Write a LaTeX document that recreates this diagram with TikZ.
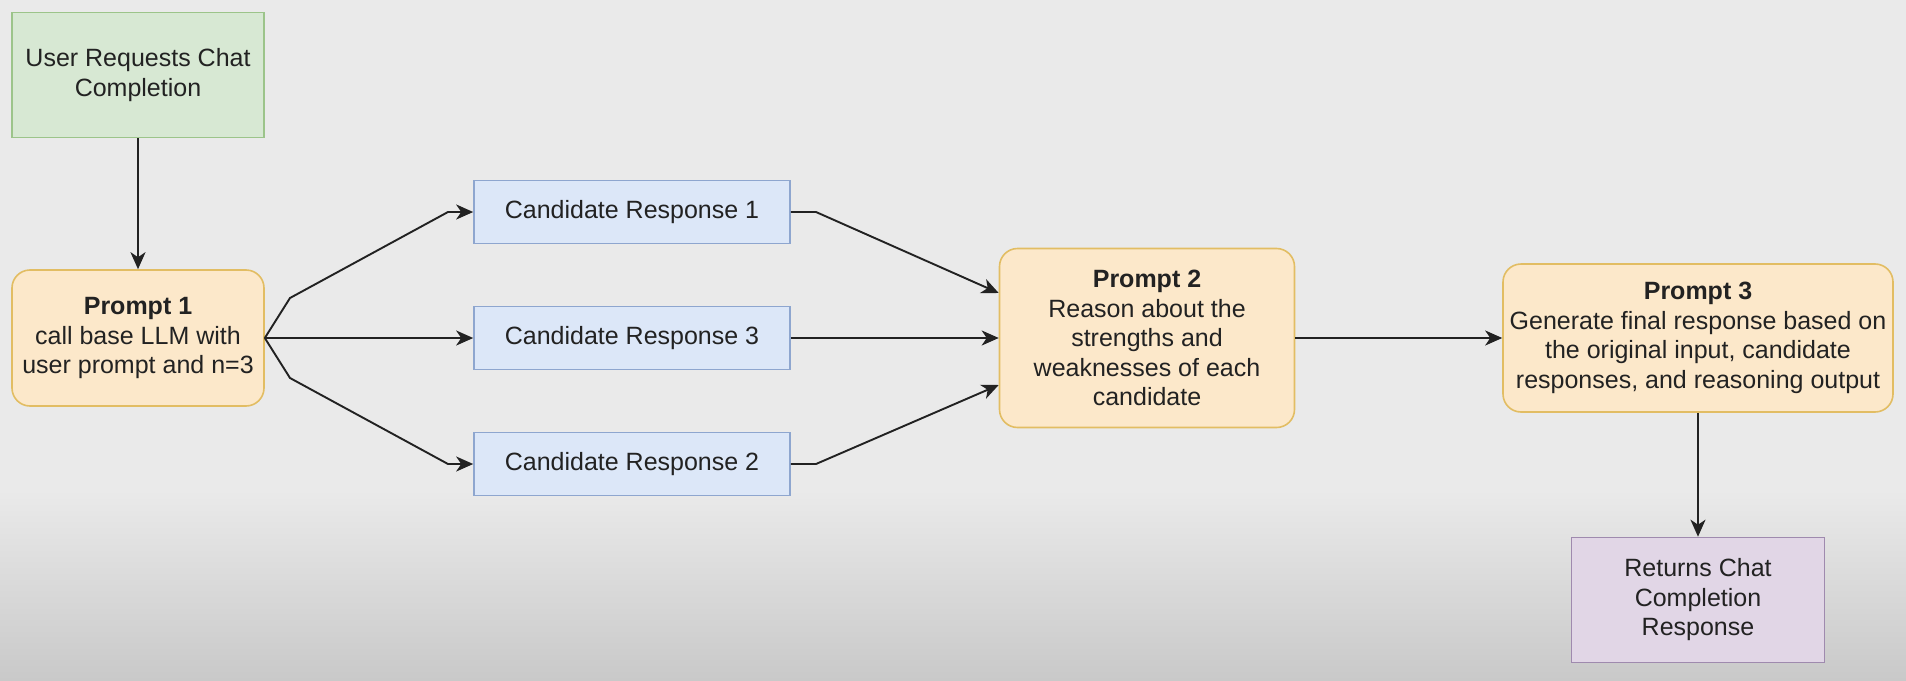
\documentclass[tikz,border=0pt]{standalone}
\usepackage{fontspec}
\setmainfont{Liberation Sans}
\usetikzlibrary{arrows.meta}

\definecolor{bgtop}{HTML}{EAEAEA}
\definecolor{bgbot}{HTML}{C9C9C9}
\definecolor{greenfill}{HTML}{D7E8D3}
\definecolor{greenline}{HTML}{9CC48A}
\definecolor{orangefill}{HTML}{FCE8CA}
\definecolor{orangeline}{HTML}{E2BD63}
\definecolor{bluefill}{HTML}{DCE7F8}
\definecolor{blueline}{HTML}{8EA6CF}
\definecolor{purplefill}{HTML}{E1D6E6}
\definecolor{purpleline}{HTML}{9F8AAE}
\definecolor{inkline}{HTML}{222222}

\tikzset{
  box/.style={draw, line width=1.6pt, align=center, inner sep=0pt,
    font=\fontsize{25}{29.5}\selectfont, text=inkline},
  userbox/.style={box, fill=greenfill, draw=greenline,
    minimum width=252pt, minimum height=125pt},
  promptbox/.style={box, fill=orangefill, draw=orangeline, rounded corners=18pt},
  candbox/.style={box, fill=bluefill, draw=blueline,
    minimum width=316pt, minimum height=63pt},
  returnbox/.style={box, fill=purplefill, draw=purpleline,
    minimum width=253pt, minimum height=125pt},
  flow/.style={draw=inkline, line width=1.9pt,
    -{Stealth[length=17pt,width=15pt,inset=5pt]}},
}

\begin{document}
\begin{tikzpicture}[x=1pt,y=-1pt]
   % background
   \fill[bgtop] (0,0) rectangle (1906,490);
   \shade[top color=bgtop, bottom color=bgbot] (0,490) rectangle (1906,680);
   \useasboundingbox (0,0) rectangle (1906,680);

   \node[userbox] (user) at (138,75) {User Requests Chat\\Completion};
   \node[promptbox, minimum width=252pt, minimum height=136pt] (p1) at (138,338)
      {\textbf{Prompt 1}\\call base LLM with\\user prompt and n=3};
   \node[candbox] (c1) at (632,212) {Candidate Response 1};
   \node[candbox] (c3) at (632,338) {Candidate Response 3};
   \node[candbox] (c2) at (632,464) {Candidate Response 2};
   \node[promptbox, minimum width=295pt, minimum height=179pt] (p2) at (1147,338)
      {\textbf{Prompt 2}\\Reason about the\\strengths and\\weaknesses of each\\candidate};
   \node[promptbox, minimum width=390pt, minimum height=148pt] (p3) at (1698,338)
      {\textbf{Prompt 3}\\Generate final response based on\\the original input, candidate\\responses, and reasoning output};
   \node[returnbox] (ret) at (1698,600) {Returns Chat\\Completion\\Response};

   \draw[flow] (user) -- (p1);
   \draw[flow] (p1.east) -- (290,298) -- (448,212) -- (c1.west);
   \draw[flow] (p1.east) -- (c3.west);
   \draw[flow] (p1.east) -- (290,378) -- (448,464) -- (c2.west);
   \draw[flow] (c1.east) -- (816,212) -- (p2.west |- 0,293);
   \draw[flow] (c3.east) -- (p2.west);
   \draw[flow] (c2.east) -- (816,464) -- (p2.west |- 0,385);
   \draw[flow] (p2) -- (p3);
   \draw[flow] (p3) -- (ret);
\end{tikzpicture}
\end{document}
